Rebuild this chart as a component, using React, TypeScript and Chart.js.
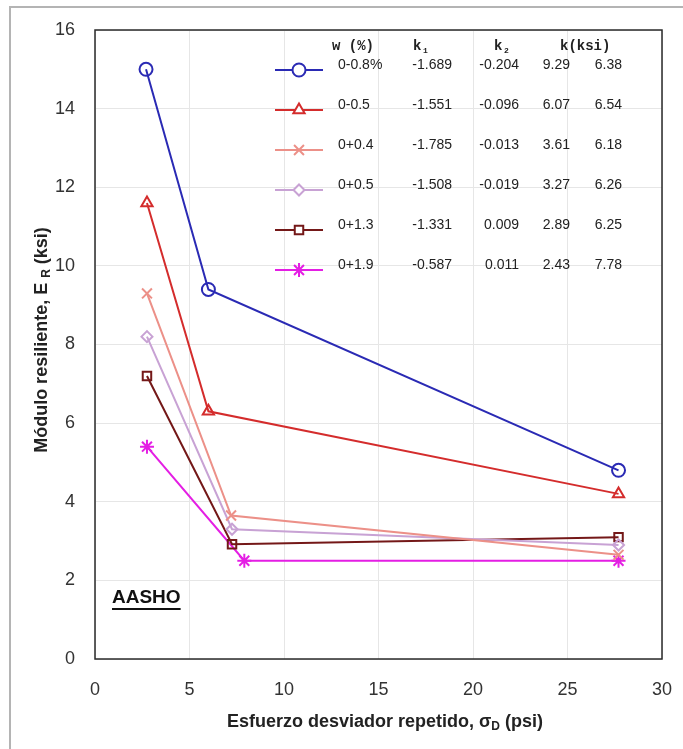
import React, { useEffect, useRef } from 'react';
import { Chart, registerables } from 'chart.js';
import { drawPoint } from 'chart.js/helpers';
Chart.register(...registerables);

const seriesNames = ['0-0.8%', '0-0.5', '0+0.4', '0+0.5', '0+1.3', '0+1.9'];
const xBlue = [2.7, 6.0, 27.7];
const yBlue = [15.0, 9.4, 4.8];
const xRed = [2.75, 6.0, 27.7];
const yRed = [11.6, 6.3, 4.2];
const xPink = [2.75, 7.2, 27.7];
const yPink = [9.3, 3.65, 2.65];
const xLav = [2.75, 7.25, 27.7];
const yLav = [8.2, 3.3, 2.9];
const xBrown = [2.75, 7.25, 27.7];
const yBrown = [7.2, 2.92, 3.1];
const xMag = [2.75, 7.9, 27.7];
const yMag = [5.4, 2.5, 2.5];

const k1Values = ['-1.689', '-1.551', '-1.785', '-1.508', '-1.331', '-0.587'];
const k2Values = ['-0.204', '-0.096', '-0.013', '-0.019', '0.009', '0.011'];
const kValues = ['9.29', '6.07', '3.61', '3.27', '2.89', '2.43'];
const kLastValues = ['6.38', '6.54', '6.18', '6.26', '6.25', '7.78'];

const colors = ['#2a2ab4', '#d42c2c', '#ec9088', '#c8a2d4', '#741818', '#e41ee4'];
const styles = ['circle', 'triangle', 'crossRot', 'rectRot', 'rect', 'star'];
const radii = [6.5, 6.5, 7, 5.5, 6, 7];

const xsAll = [xBlue, xRed, xPink, xLav, xBrown, xMag];
const ysAll = [yBlue, yRed, yPink, yLav, yBrown, yMag];

const FONT = '"Liberation Sans", Arial, sans-serif';

const decorPlugin = {
  id: 'decor',
  beforeDraw(chart: any) {
    const ctx = chart.ctx;
    ctx.save();
    ctx.fillStyle = '#ffffff';
    ctx.fillRect(0, 0, chart.width, chart.height);
    ctx.strokeStyle = '#b4b4b4';
    ctx.lineWidth = 2;
    ctx.beginPath();
    ctx.moveTo(10, chart.height);
    ctx.lineTo(10, 7);
    ctx.lineTo(chart.width, 7);
    ctx.stroke();
    ctx.restore();
  },
  beforeDatasetsDraw(chart: any) {
    const ctx = chart.ctx;
    const a = chart.chartArea;
    ctx.save();
    ctx.strokeStyle = '#2a2a2a';
    ctx.lineWidth = 1.5;
    ctx.strokeRect(a.left, a.top, a.right - a.left, a.bottom - a.top);
    ctx.restore();
  },
  afterDraw(chart: any) {
    const ctx = chart.ctx;
    ctx.save();
    const titleFont = 'bold 18px ' + FONT;
    const subFont = 'bold 12px ' + FONT;
    const drawTitle = (parts: [string, boolean][], cx: number, cy: number) => {
      let total = 0;
      parts.forEach(([t, sub]) => {
        ctx.font = sub ? subFont : titleFont;
        total += ctx.measureText(t).width;
      });
      let x = cx - total / 2;
      ctx.textBaseline = 'middle';
      ctx.textAlign = 'left';
      parts.forEach(([t, sub]) => {
        ctx.font = sub ? subFont : titleFont;
        ctx.fillText(t, x, sub ? cy + 5 : cy);
        x += ctx.measureText(t).width;
      });
    };
    ctx.fillStyle = '#222';
    drawTitle([['Esfuerzo desviador repetido, σ', false], ['D', true], [' (psi)', false]], 385, 722);
    ctx.save();
    ctx.translate(42, 340);
    ctx.rotate(-Math.PI / 2);
    drawTitle([['Módulo resiliente, E ', false], ['R', true], [' (ksi)', false]], 0, 0);
    ctx.restore();

    // AASHO label
    ctx.font = 'bold 19px ' + FONT;
    ctx.textAlign = 'left';
    ctx.textBaseline = 'middle';
    ctx.fillStyle = '#111';
    ctx.fillText('AASHO', 112, 598);
    const w = ctx.measureText('AASHO').width;
    ctx.strokeStyle = '#111';
    ctx.lineWidth = 2;
    ctx.beginPath();
    ctx.moveTo(112, 609);
    ctx.lineTo(112 + w, 609);
    ctx.stroke();

    // legend table header
    ctx.fillStyle = '#222';
    ctx.font = 'bold 14px "Liberation Mono", "Courier New", monospace';
    ctx.textBaseline = 'middle';
    ctx.textAlign = 'left';
    ctx.fillText('w (%)', 332, 46);
    ctx.fillText('k', 413, 46);
    ctx.fillText('k', 494, 46);
    ctx.fillText('k(ksi)', 560, 46);
    ctx.font = 'bold 8px "Liberation Mono", monospace';
    ctx.fillText('1', 423, 51);
    ctx.fillText('2', 504, 51);

    // legend rows
    for (let i = 0; i < seriesNames.length; i++) {
      const ly = 70 + 40 * i;
      ctx.strokeStyle = colors[i];
      ctx.lineWidth = 2;
      ctx.beginPath();
      ctx.moveTo(275, ly);
      ctx.lineTo(323, ly);
      ctx.stroke();
      ctx.fillStyle = '#ffffff';
      ctx.strokeStyle = colors[i];
      drawPoint(ctx, { pointStyle: styles[i], radius: radii[i], rotation: 0, borderWidth: 2 } as any, 299, ly);
      const ty = ly - 5;
      ctx.fillStyle = '#222';
      ctx.font = '14px ' + FONT;
      ctx.textBaseline = 'middle';
      ctx.textAlign = 'left';
      ctx.fillText(seriesNames[i], 338, ty);
      ctx.textAlign = 'right';
      ctx.fillText(k1Values[i], 452, ty);
      ctx.fillText(k2Values[i], 519, ty);
      ctx.fillText(kValues[i], 570, ty);
      ctx.fillText(kLastValues[i], 622, ty);
    }
    ctx.restore();
  },
};

export default function App() {
  const ref = useRef<HTMLCanvasElement>(null);
  useEffect(() => {
    document.body.style.margin = '0';
    const canvas = ref.current!;
    const datasets = seriesNames.map((name, i) => ({
      label: name,
      data: xsAll[i].map((x, j) => ({ x, y: ysAll[i][j] })),
      showLine: true,
      borderColor: colors[i],
      backgroundColor: '#ffffff',
      borderWidth: 2,
      pointStyle: styles[i],
      pointRadius: radii[i],
      pointBorderWidth: 2,
      pointBorderColor: colors[i],
      pointBackgroundColor: 'rgba(255,255,255,0)',
    }));
    const chart = new Chart(canvas, {
      type: 'scatter',
      data: { datasets },
      options: {
        responsive: false,
        animation: false,
        devicePixelRatio: 1,
        layout: { padding: { left: 0, top: 30, right: 21, bottom: 0 } },
        plugins: { legend: { display: false }, tooltip: { enabled: false } },
        scales: {
          x: {
            type: 'linear',
            min: 0,
            max: 30,
            ticks: { stepSize: 5, padding: 20, color: '#333', font: { family: FONT, size: 18 } },
            grid: { color: '#e6e6e6', drawTicks: false, lineWidth: 1 },
            border: { display: false },
            afterFit: (s: any) => { s.height = 90; s.paddingLeft = 0; s.paddingRight = 0; },
          },
          y: {
            type: 'linear',
            min: 0,
            max: 16,
            ticks: { stepSize: 2, padding: 20, color: '#333', font: { family: FONT, size: 18 } },
            grid: { color: '#e6e6e6', drawTicks: false, lineWidth: 1 },
            border: { display: false },
            afterFit: (s: any) => { s.width = 95; s.paddingTop = 0; s.paddingBottom = 0; },
          },
        },
      },
      plugins: [decorPlugin],
    } as any);
    return () => chart.destroy();
  }, []);
  return (
    <div style={{ position: 'relative', width: 683, height: 749 }}>
      <canvas ref={ref} width={683} height={749} style={{ width: 683, height: 749, display: 'block' }} />
    </div>
  );
}
